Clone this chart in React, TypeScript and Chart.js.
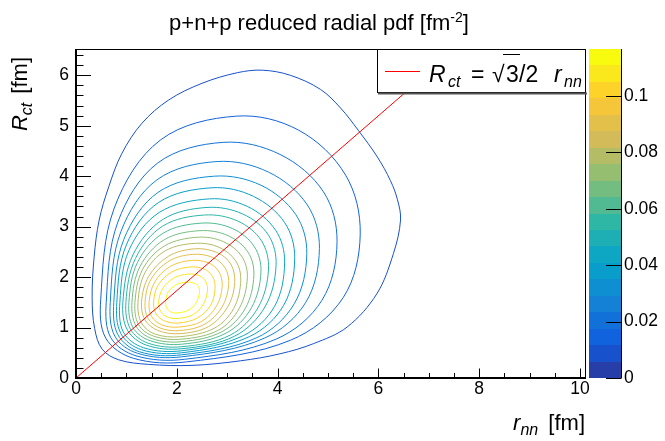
import React, { useEffect, useRef } from "react";
import { Chart, registerables } from "chart.js";

Chart.register(...registerables);

const FONT = "'Liberation Sans', Arial, Helvetica, sans-serif";

// ---- axis ranges and ticks ----
const xRange = [0, 10.12];
const yRange = [0, 6.52];
const zRange = [0, 0.1167];

const xMajorTicks = [0, 2, 4, 6, 8, 10];
const xMinorTicks = [0.5, 1, 1.5, 2.5, 3, 3.5, 4.5, 5, 5.5, 6.5, 7, 7.5, 8.5, 9, 9.5];
const yMajorTicks = [0, 1, 2, 3, 4, 5, 6];
const yMinorTicks = [0.2, 0.4, 0.6, 0.8, 1.2, 1.4, 1.6, 1.8, 2.2, 2.4, 2.6, 2.8, 3.2, 3.4, 3.6, 3.8, 4.2, 4.4, 4.6, 4.8, 5.2, 5.4, 5.6, 5.8, 6.2, 6.4];
const zMajorTicks = [0, 0.02, 0.04, 0.06, 0.08, 0.1];

// ---- colour levels (20 bands) ----
const zLevels = [0, 0.005835, 0.01167, 0.017505, 0.02334, 0.029175, 0.03501, 0.040845, 0.04668, 0.052515, 0.05835, 0.064185, 0.07002, 0.075855, 0.08169, 0.087525, 0.09336, 0.099195, 0.10503, 0.110865, 0.1167];
const bandColors = ["#273da8", "#1751cb", "#1063dc", "#1271d9", "#1480d6", "#0e8fd1", "#099dcc", "#0da7c3", "#1eafb4", "#2eb7a4", "#52ba92", "#74bd81", "#96be71", "#b4bd65", "#d2bb58", "#e3c04a", "#f5c53a", "#fdd32a", "#fbe81c", "#f9fb0e"];

// ---- contour lines, [r_nn, R_ct] points, outermost (level 1) to innermost (level 19) ----
const c01 = [[0.32, 1.6], [0.36, 2.4], [0.46, 3.13], [0.65, 3.79], [0.91, 4.45], [1.31, 5.05], [1.84, 5.51], [2.5, 5.84], [3.2, 6.05], [3.7, 6.1], [4.25, 6.0], [4.85, 5.72], [5.25, 5.35], [5.6, 4.91], [5.98, 4.38], [6.24, 3.91], [6.38, 3.53], [6.44, 3.13], [6.3, 2.47], [5.97, 1.67], [5.38, 1.01], [4.71, 0.68], [4.05, 0.48], [3.26, 0.34], [2.3, 0.25], [1.44, 0.27], [0.85, 0.36], [0.52, 0.57], [0.37, 0.98]];
const c02 = [[0.49, 1.55], [0.76, 3.37], [1.68, 4.72], [3.19, 5.19], [4.42, 4.91], [5.35, 4.02], [5.64, 2.85], [5.3, 1.59], [4.26, 0.75], [2.2, 0.32], [1.14, 0.39], [0.59, 0.79]];
const c03 = [[0.6, 1.5], [0.83, 3.09], [1.62, 4.26], [2.92, 4.67], [4.05, 4.43], [4.91, 3.69], [5.18, 2.7], [4.88, 1.54], [3.97, 0.77], [2.15, 0.37], [1.19, 0.44], [0.69, 0.8]];
const c04 = [[0.68, 1.5], [0.89, 2.9], [1.61, 3.93], [2.8, 4.29], [3.82, 4.08], [4.59, 3.43], [4.83, 2.57], [4.56, 1.5], [3.74, 0.79], [2.1, 0.42], [1.22, 0.49], [0.77, 0.83]];
const c05 = [[0.75, 1.5], [0.95, 2.75], [1.63, 3.68], [2.75, 4.0], [3.67, 3.82], [4.36, 3.24], [4.58, 2.47], [4.33, 1.47], [3.59, 0.8], [2.1, 0.46], [1.26, 0.52], [0.83, 0.86]];
const c06 = [[0.81, 1.5], [1.0, 2.64], [1.64, 3.48], [2.7, 3.77], [3.52, 3.6], [4.14, 3.08], [4.34, 2.38], [4.12, 1.44], [3.44, 0.82], [2.1, 0.5], [1.3, 0.56], [0.89, 0.88]];
const c07 = [[0.87, 1.5], [1.05, 2.53], [1.65, 3.28], [2.65, 3.55], [3.4, 3.4], [3.96, 2.93], [4.14, 2.3], [3.94, 1.42], [3.32, 0.84], [2.1, 0.54], [1.34, 0.6], [0.94, 0.91]];
const c08 = [[0.93, 1.5], [1.13, 2.44], [1.72, 3.14], [2.6, 3.38], [3.31, 3.25], [3.82, 2.83], [3.97, 2.23], [3.75, 1.41], [3.15, 0.83], [2.1, 0.58], [1.4, 0.65], [1.02, 0.95]];
const c09 = [[0.99, 1.5], [1.18, 2.37], [1.72, 3.01], [2.55, 3.23], [3.21, 3.11], [3.68, 2.72], [3.82, 2.16], [3.61, 1.39], [3.06, 0.85], [2.1, 0.62], [1.43, 0.69], [1.08, 0.97]];
const c10 = [[1.05, 1.5], [1.22, 2.29], [1.73, 2.87], [2.5, 3.07], [3.11, 2.96], [3.54, 2.6], [3.67, 2.1], [3.48, 1.39], [2.98, 0.89], [2.1, 0.67], [1.47, 0.74], [1.13, 1.0]];
const c11 = [[1.11, 1.5], [1.27, 2.21], [1.75, 2.74], [2.46, 2.92], [3.02, 2.82], [3.41, 2.5], [3.53, 2.04], [3.36, 1.38], [2.9, 0.92], [2.1, 0.72], [1.51, 0.78], [1.19, 1.03]];
const c12 = [[1.17, 1.5], [1.32, 2.15], [1.76, 2.62], [2.42, 2.79], [2.93, 2.7], [3.29, 2.41], [3.4, 1.99], [3.24, 1.38], [2.83, 0.95], [2.1, 0.77], [1.54, 0.83], [1.24, 1.06]];
const c13 = [[1.23, 1.5], [1.37, 2.09], [1.77, 2.52], [2.38, 2.67], [2.84, 2.59], [3.17, 2.32], [3.27, 1.94], [3.13, 1.38], [2.75, 0.99], [2.08, 0.82], [1.57, 0.87], [1.3, 1.09]];
const c14 = [[1.3, 1.5], [1.44, 2.01], [1.83, 2.41], [2.35, 2.56], [2.79, 2.49], [3.07, 2.26], [3.15, 1.89], [3.01, 1.41], [2.63, 1.02], [2.07, 0.88], [1.63, 0.94], [1.37, 1.15]];
const c15 = [[1.37, 1.5], [1.49, 1.96], [1.85, 2.32], [2.32, 2.45], [2.71, 2.39], [2.96, 2.18], [3.03, 1.85], [2.9, 1.41], [2.56, 1.07], [2.06, 0.94], [1.67, 0.99], [1.43, 1.18]];
const c16 = [[1.45, 1.5], [1.56, 1.9], [1.87, 2.21], [2.29, 2.33], [2.63, 2.28], [2.84, 2.1], [2.9, 1.81], [2.79, 1.43], [2.49, 1.12], [2.05, 1.01], [1.71, 1.05], [1.5, 1.22]];
const c17 = [[1.54, 1.51], [1.63, 1.84], [1.9, 2.1], [2.26, 2.2], [2.54, 2.16], [2.71, 2.01], [2.76, 1.77], [2.67, 1.44], [2.41, 1.19], [2.04, 1.09], [1.76, 1.13], [1.59, 1.27]];
const c18 = [[1.64, 1.51], [1.72, 1.77], [1.94, 1.98], [2.23, 2.06], [2.44, 2.03], [2.57, 1.92], [2.61, 1.74], [2.53, 1.47], [2.33, 1.26], [2.03, 1.18], [1.81, 1.21], [1.68, 1.32]];
const c19 = [[1.78, 1.51], [1.83, 1.7], [1.99, 1.85], [2.2, 1.9], [2.34, 1.88], [2.43, 1.81], [2.45, 1.7], [2.39, 1.5], [2.24, 1.35], [2.02, 1.29], [1.88, 1.31], [1.8, 1.39]];
const contours = [c01, c02, c03, c04, c05, c06, c07, c08, c09, c10, c11, c12, c13, c14, c15, c16, c17, c18, c19];

// ---- reference line R_ct = sqrt(3)/2 r_nn ----
const lineRnn = [0, 7.5];
const lineRct = [0, 6.495];

type Part = { t: string; size: number; italic?: boolean; dy?: number; gap?: number };

function fontOf(p: Part) {
  return `${p.italic ? "italic " : ""}${p.size}px ${FONT}`;
}

function drawParts(ctx: CanvasRenderingContext2D, parts: Part[], x: number, y: number, align: "left" | "right" | "center") {
  const widths = parts.map((p) => {
    ctx.font = fontOf(p);
    return ctx.measureText(p.t).width + (p.gap || 0);
  });
  const total = widths.reduce((a, b) => a + b, 0);
  let cx = align === "left" ? x : align === "right" ? x - total : x - total / 2;
  ctx.textAlign = "left";
  ctx.textBaseline = "alphabetic";
  parts.forEach((p, i) => {
    ctx.font = fontOf(p);
    ctx.fillText(p.t, cx, y + (p.dy || 0));
    cx += widths[i];
  });
}

const loopPlugin = {
  id: "closeLoops",
  afterDatasetsUpdate(chart: any) {
    chart.data.datasets.forEach((ds: any, i: number) => {
      if (!ds.closed) return;
      const line = chart.getDatasetMeta(i).dataset;
      if (!line) return;
      line._loop = true;
      line._fullLoop = true;
      line._segments = undefined;
      line._path = undefined;
      line._pointsUpdated = false;
    });
  },
};

const decorPlugin = {
  id: "decor",
  afterDatasetsDraw(chart: any) {
    const ctx: CanvasRenderingContext2D = chart.ctx;
    const a = chart.chartArea;
    const xs = chart.scales.x;
    const ys = chart.scales.y;
    const zs = chart.scales.z;
    ctx.save();

    // ticks (inward)
    ctx.strokeStyle = "#000";
    ctx.lineWidth = 1;
    ctx.beginPath();
    xMajorTicks.forEach((v) => {
      const px = Math.round(xs.getPixelForValue(v)) + 0.5;
      ctx.moveTo(px, a.bottom);
      ctx.lineTo(px, a.bottom - 9.5);
    });
    xMinorTicks.forEach((v) => {
      const px = Math.round(xs.getPixelForValue(v)) + 0.5;
      ctx.moveTo(px, a.bottom);
      ctx.lineTo(px, a.bottom - 5);
    });
    yMajorTicks.forEach((v) => {
      const py = Math.round(ys.getPixelForValue(v)) + 0.5;
      ctx.moveTo(a.left, py);
      ctx.lineTo(a.left + 15, py);
    });
    yMinorTicks.forEach((v) => {
      const py = Math.round(ys.getPixelForValue(v)) + 0.5;
      ctx.moveTo(a.left, py);
      ctx.lineTo(a.left + 7.5, py);
    });
    ctx.stroke();

    // frame
    ctx.beginPath();
    ctx.moveTo(a.left, a.top + 0.5);
    ctx.lineTo(a.right - 0.5, a.top + 0.5);
    ctx.lineTo(a.right - 0.5, a.bottom);
    ctx.stroke();
    ctx.lineWidth = 2;
    ctx.beginPath();
    ctx.moveTo(a.left, a.top);
    ctx.lineTo(a.left, a.bottom);
    ctx.lineTo(a.right, a.bottom);
    ctx.stroke();

    // colour bar
    const cbL = a.right + 3;
    const cbR = a.right + 35;
    for (let i = 0; i < bandColors.length; i++) {
      const y1 = Math.round(zs.getPixelForValue(zLevels[i]));
      const y2 = Math.round(zs.getPixelForValue(zLevels[i + 1]));
      ctx.fillStyle = bandColors[i];
      ctx.fillRect(cbL, y2, cbR - cbL, y1 - y2);
    }
    ctx.lineWidth = 1;
    ctx.strokeStyle = "#000";
    ctx.beginPath();
    ctx.moveTo(cbR + 0.5, zs.top);
    ctx.lineTo(cbR + 0.5, zs.bottom);
    zMajorTicks.forEach((v) => {
      const py = Math.round(zs.getPixelForValue(v)) + 0.5;
      ctx.moveTo(cbR + 0.5, py);
      ctx.lineTo(cbR - 15, py);
    });
    ctx.stroke();

    // legend box
    const lx1 = 377, ly1 = a.top, lx2 = a.right, ly2 = 93;
    ctx.fillStyle = "#fff";
    ctx.fillRect(lx1, ly1, lx2 - lx1, ly2 - ly1);
    ctx.strokeStyle = "#000";
    ctx.lineWidth = 1;
    ctx.strokeRect(lx1 + 0.5, ly1 + 0.5, lx2 - lx1 - 1, ly2 - ly1 - 1);
    ctx.strokeStyle = "#555";
    ctx.lineWidth = 2;
    ctx.beginPath();
    ctx.moveTo(lx1 + 1, ly2 + 0.5);
    ctx.lineTo(lx2 + 1, ly2 + 0.5);
    ctx.stroke();
    ctx.strokeStyle = "#ff0000";
    ctx.lineWidth = 1;
    ctx.beginPath();
    ctx.moveTo(385, 71.5);
    ctx.lineTo(420, 71.5);
    ctx.stroke();
    ctx.fillStyle = "#000";
    ctx.textBaseline = "alphabetic";
    ctx.textAlign = "left";
    const lb = 81.7;
    ctx.font = `italic 23px ${FONT}`;
    ctx.fillText("R", 429, lb);
    ctx.font = `italic 16px ${FONT}`;
    ctx.fillText("ct", 448, lb + 5);
    ctx.font = `23px ${FONT}`;
    ctx.fillText("=", 471, lb);
    ctx.fillText("\u221A", 492, lb);
    ctx.fillText("3", 506, lb);
    ctx.fillText("/2", 519, lb);
    ctx.lineWidth = 1;
    ctx.strokeStyle = "#000";
    ctx.beginPath();
    ctx.moveTo(503, 54.5);
    ctx.lineTo(520, 54.5);
    ctx.stroke();
    ctx.font = `italic 23px ${FONT}`;
    ctx.fillText("r", 554, lb);
    ctx.font = `italic 16px ${FONT}`;
    ctx.fillText("nn", 564, lb + 5);

    // title
    ctx.fillStyle = "#000";
    drawParts(ctx, [
      { t: "p+n+p reduced radial pdf [fm", size: 22 },
      { t: "-2", size: 14, dy: -8 },
      { t: "]", size: 22 },
    ], 319, 30, "center");

    // x axis title
    drawParts(ctx, [
      { t: "r", size: 22, italic: true },
      { t: "nn", size: 16, italic: true, dy: 5, gap: 4 },
      { t: " [fm]", size: 22 },
    ], 585, 430, "right");

    // y axis title
    ctx.save();
    ctx.translate(27, 57);
    ctx.rotate(-Math.PI / 2);
    drawParts(ctx, [
      { t: "R", size: 22, italic: true },
      { t: "ct", size: 16, italic: true, dy: 5, gap: 3 },
      { t: " [fm]", size: 22 },
    ], 0, 0, "right");
    ctx.restore();

    ctx.restore();
  },
};

export default function App() {
  const ref = useRef<HTMLCanvasElement>(null);
  useEffect(() => {
    document.body.style.margin = "0";
    const canvas = ref.current;
    if (!canvas) return;
    const datasets: any[] = [
      {
        label: "Rct",
        data: lineRnn.map((x, i) => ({ x, y: lineRct[i] })),
        borderColor: "#ff0000",
        borderWidth: 1,
        pointRadius: 0,
        tension: 0,
        fill: false,
        order: 0,
      },
      ...contours.map((pts, i) => ({
        label: `level ${i + 1}`,
        data: pts.map(([x, y]) => ({ x, y })),
        borderColor: bandColors[i + 1],
        borderWidth: 1,
        pointRadius: 0,
        tension: 0.35,
        fill: false,
        closed: true,
        order: 1,
      })),
    ];
    const tickFont = { family: FONT, size: 17.5 };
    const chart = new Chart(canvas, {
      type: "line",
      data: { datasets },
      options: {
        responsive: false,
        animation: false,
        events: [],
        layout: { padding: { top: 49, left: 0, right: 0, bottom: 0 } },
        plugins: {
          legend: { display: false },
          title: { display: false },
          tooltip: { enabled: false },
        },
        scales: {
          x: {
            type: "linear",
            position: "bottom",
            min: xRange[0],
            max: xRange[1],
            afterBuildTicks: (s: any) => {
              s.ticks = xMajorTicks.map((v) => ({ value: v }));
            },
            afterFit: (s: any) => {
              s.height = 63;
            },
            grid: { display: false, drawTicks: false },
            border: { display: false },
            ticks: { font: tickFont, color: "#000", padding: 1, maxRotation: 0, autoSkip: false, callback: (v: any) => String(v) },
          },
          y: {
            type: "linear",
            position: "left",
            min: yRange[0],
            max: yRange[1],
            afterBuildTicks: (s: any) => {
              s.ticks = yMajorTicks.map((v) => ({ value: v }));
            },
            afterFit: (s: any) => {
              s.width = 76;
            },
            grid: { display: false, drawTicks: false },
            border: { display: false },
            ticks: { font: tickFont, color: "#000", padding: 7, autoSkip: false, callback: (v: any) => String(v) },
          },
          z: {
            type: "linear",
            position: "right",
            min: zRange[0],
            max: zRange[1],
            afterBuildTicks: (s: any) => {
              s.ticks = zMajorTicks.map((v) => ({ value: v }));
            },
            afterFit: (s: any) => {
              s.width = 79;
            },
            grid: { display: false, drawTicks: false },
            border: { display: false },
            ticks: { font: tickFont, color: "#000", padding: 38, autoSkip: false, callback: (v: any) => String(Number(Number(v).toFixed(2))) },
          },
        },
      } as any,
      plugins: [loopPlugin, decorPlugin],
    } as any);
    return () => chart.destroy();
  }, []);
  return <canvas ref={ref} width={665} height={441} style={{ display: "block" }} />;
}
